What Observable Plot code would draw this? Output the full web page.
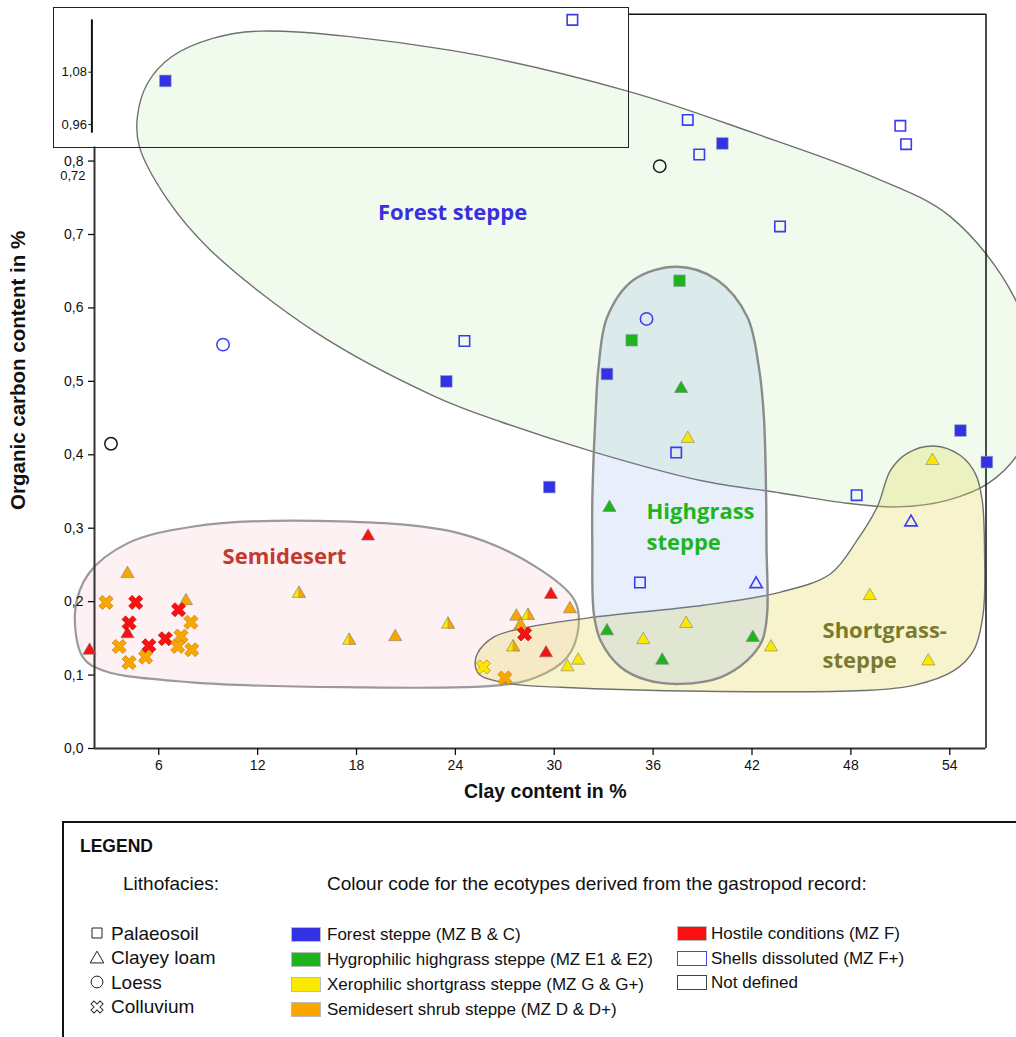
<!DOCTYPE html>
<html><head><meta charset="utf-8">
<script src="https://cdn.jsdelivr.net/npm/d3@7"></script>
<script src="https://cdn.jsdelivr.net/npm/@observablehq/plot@0.6"></script>
<style>
html,body{margin:0;padding:0;background:#fff;overflow:hidden;}
body{width:1016px;height:1037px;position:relative;font-family:"Liberation Sans",Arial,sans-serif;}
#main,#inset{position:absolute;left:0;top:0;}
#insetBox{position:absolute;left:53px;top:7px;width:576px;height:141px;border:1.5px solid #222;box-sizing:border-box;}
#legendBox{position:absolute;left:62px;top:821px;width:1000px;height:260px;border:2px solid #111;box-sizing:border-box;}
.lg{position:absolute;font-size:17px;color:#111;white-space:nowrap;line-height:17px;}
.sw{position:absolute;width:30px;height:15px;box-sizing:border-box;}
.ic{position:absolute;}
</style></head><body>
<div id="main"></div><div id="insetBox"></div><div id="inset"></div><div id="legendBox"></div><div id="legend"></div>
<script>
// ---------------- data ----------------
// lithofacies: P = Palaeosoil, C = Clayey loam, L = Loess, K = Colluvium
// ecotype: forest, highgrass, xero, semi, hostile, shells, undef, mixed (xero + semi)
const clay = [38.1, 40.2, 38.8, 36.4, 51.0, 51.35, 43.7, 9.9, 24.55, 23.45, 33.2, 3.1, 29.7,
  37.6, 35.6, 34.7, 37.7, 38.1, 37.4, 33.35, 35.2, 42.25, 33.2, 35.4, 38.0, 36.55, 42.05, 43.15,
  54.65, 56.25, 52.95, 48.35, 51.65, 49.15, 52.7,
  4.1, 2.8, 4.6, 7.65, 7.2, 4.2, 7.95, 4.1, 6.4, 7.35, 5.4, 3.6, 7.15, 8.0, 1.8, 5.2, 4.2,
  18.7, 14.5, 17.55, 20.35, 23.55, 29.8, 30.95, 27.7, 28.4, 27.95, 28.2, 27.5, 29.5, 30.8, 31.45, 25.7, 27.0];
const carbon = [0.856, 0.824, 0.809, 0.793, 0.848, 0.823, 0.711, 0.550, 0.555, 0.500, 0.510, 0.415, 0.356,
  0.637, 0.585, 0.556, 0.490, 0.422, 0.403, 0.328, 0.226, 0.224, 0.160, 0.148, 0.170, 0.120, 0.151, 0.138,
  0.433, 0.390, 0.392, 0.345, 0.308, 0.208, 0.119,
  0.238, 0.199, 0.199, 0.201, 0.189, 0.171, 0.172, 0.156, 0.1495, 0.153, 0.140, 0.139, 0.139, 0.1345, 0.1335, 0.1245, 0.117,
  0.289, 0.211, 0.147, 0.152, 0.169, 0.2095, 0.190, 0.180, 0.181, 0.168, 0.156, 0.138, 0.130, 0.111, 0.120, 0.111, 0.096];
const facies = ["P","P","P","L","P","P","P","L","P","P","P","L","P",
  "P","L","P","C","C","P","C","P","C","C","C","C","C","C","C",
  "P","P","C","P","C","C","C",
  "C","K","K","C","K","K","K","C","K","K","K","K","K","K","C","K","K",
  "C","C","C","C","C","C","C","C","C","C","K","C","C","C","C","K","K"];
const ecotype = ["shells","forest","shells","undef","shells","shells","shells","shells","shells","forest","forest","undef","forest",
  "highgrass","shells","highgrass","highgrass","xero","shells","highgrass","shells","shells","highgrass","xero","xero","highgrass","highgrass","xero",
  "forest","forest","xero","shells","shells","xero","xero",
  "semi","semi","hostile","semi","hostile","hostile","semi","hostile","hostile","semi","hostile","semi","semi","semi","hostile","semi","semi",
  "hostile","mixed","mixed","semi","mixed","hostile","semi","semi","mixed","semi","hostile","mixed","hostile","xero","xero","xero","semi"];

// values above the axis break, shown in the inset
const insetClay = [6.4, 31.1];
const insetCarbon = [1.06, 1.2];
const insetFacies = ["P", "P"];
const insetEcotype = ["forest", "shells"];

const xTicks = [6, 12, 18, 24, 30, 36, 42, 48, 54];
const yTicks = [0, 0.1, 0.2, 0.3, 0.4, 0.5, 0.6, 0.7, 0.8];
const insetTicks = [0.96, 1.08];
const strayLabel = ["0,72"];  // label printed under "0,8" in the original
const strayLabelCarbon = [0.7805];

// outlines of the ecotype regions (clay %, carbon %)
const forestHull = [[12.18,0.977],[23.65,0.951],[34.5,0.895],[42.13,0.838],[49.28,0.779],[54.05,0.724],[57.9,0.615],
  [59.4,0.50],[58.4,0.411],[56.4,0.362],[53.85,0.338],[50.81,0.329],[47.78,0.334],[43.73,0.348],[38.88,0.365],
  [32.38,0.404],[26.74,0.445],[22.8,0.479],[15.58,0.566],[9.12,0.679],[6.54,0.747],[4.82,0.820],[4.7,0.860],
  [5.32,0.906],[6.78,0.942],[9.27,0.967]];
const highgrassHull = [[37.46,0.656],[39.89,0.638],[41.71,0.588],[42.41,0.520],[42.72,0.452],[42.86,0.338],[42.88,0.274],
  [42.92,0.184],[42.62,0.147],[41.71,0.120],[40.09,0.097],[37.66,0.088],[35.64,0.093],[34.02,0.111],[32.81,0.147],
  [32.4,0.184],[32.31,0.274],[32.31,0.338],[32.5,0.452],[32.69,0.520],[33.22,0.588],[34.81,0.638]];
const semidesertHull = [[15.67,0.310],[24.25,0.293],[28.91,0.247],[31.23,0.202],[31.47,0.165],[30.77,0.124],[28.91,0.097],
  [26.59,0.086],[17.3,0.0835],[8.02,0.090],[2.67,0.106],[1.4,0.124],[0.93,0.188],[1.74,0.238],[4.07,0.279],[8.02,0.302]];
const shortgrassHull = [[25.22,0.111],[25.53,0.0995],[27.35,0.088],[30.38,0.0835],[39.04,0.078],[48.79,0.079],[51.82,0.086],
  [54.25,0.106],[55.46,0.134],[56.03,0.184],[56.11,0.270],[55.97,0.338],[55.56,0.374],[54.65,0.399],[53.03,0.412],
  [51.42,0.402],[50.41,0.379],[49.6,0.329],[48.39,0.284],[46.77,0.238],[43.73,0.213],[39.04,0.195],[32.47,0.179],
  [28.36,0.165],[26.34,0.152],[25.33,0.129]];

const regionText = ["Forest steppe", "Semidesert", "Highgrass\nsteppe", "Shortgrass-\nsteppe"];
const regionClay = [23.83, 13.63, 35.6, 46.28];
const regionCarbon = [0.729, 0.2603, 0.3053, 0.1431];

// ---------------- styles ----------------
const FILL = {forest:"#3232e4", highgrass:"#1eb41e", xero:"#fbe800", semi:"#fba600", hostile:"#fb0f0f", mixed:"#fbe800"};
const LINE = {shells:"#3b3bf0", undef:"#1a1a1a"};
const REGION_COLOR = ["#3a2fe0", "#c33a2c", "#1fb51f", "#7b7a2e"];
const REGION_FONT = "'Open Sans', sans-serif";
const isOpen = e => e === "shells" || e === "undef";
const comma = d => d.toFixed(d >= 0.9 ? 2 : 1).replace(".", ",");

const halfTriangle = {
  draw(context, size) {
    const y = -Math.sqrt(size / (Math.sqrt(3) * 3));
    context.moveTo(0, y * 2);
    context.lineTo(-Math.sqrt(3) * y, -y);
    context.lineTo(0, -y);
    context.closePath();
  }
};

function pointMarks(rows) {
  const sel = (f, pred) => rows.filter(d => d.facies === f && pred(d));
  const xy = {x: "clay", y: "carbon"};
  const filledStroke = "#7d7d7d";
  return [
    Plot.dot(sel("P", d => !isOpen(d.eco)), {...xy, symbol: "square", r: 6.6, fill: d => FILL[d.eco], stroke: "#a0a0c0", strokeWidth: 0.6}),
    Plot.dot(sel("P", d => isOpen(d.eco)), {...xy, symbol: "square", r: 5.9, fill: "none", stroke: d => LINE[d.eco], strokeWidth: 1.6}),
    Plot.dot(sel("C", d => !isOpen(d.eco)), {...xy, symbol: "triangle", r: 4.9, fill: d => FILL[d.eco], stroke: filledStroke, strokeWidth: 0.6}),
    Plot.dot(sel("C", d => d.eco === "mixed"), {...xy, symbol: halfTriangle, r: 4.9, fill: FILL.semi, stroke: filledStroke, strokeWidth: 0.4}),
    Plot.dot(sel("C", d => isOpen(d.eco)), {...xy, symbol: "triangle", r: 4.6, fill: "none", stroke: d => LINE[d.eco], strokeWidth: 1.6}),
    Plot.dot(sel("L", d => true), {...xy, symbol: "circle", r: 6.2, fill: "none", stroke: d => isOpen(d.eco) ? LINE[d.eco] : FILL[d.eco], strokeWidth: 1.5}),
    Plot.dot(sel("K", d => true), {...xy, symbol: "cross", rotate: 45, r: 6.3, fill: d => FILL[d.eco], stroke: d => d.eco === "hostile" ? "#b30000" : "#b87800", strokeWidth: 0.6})
  ];
}

const rowsOf = (cx, cy, fa, ec) => cx.map((c, i) => ({clay: c, carbon: cy[i], facies: fa[i], eco: ec[i]}));
const points = rowsOf(clay, carbon, facies, ecotype);
const insetPoints = rowsOf(insetClay, insetCarbon, insetFacies, insetEcotype);

const X_DOMAIN = [2.1, 56.2];
const W = 1016, H = 815;
const baseStyle = {fontFamily: "'Liberation Sans', Arial, sans-serif", color: "#111", background: "transparent", overflow: "visible"};
const hull = (data, fill, fillOpacity, stroke, strokeWidth) =>
  Plot.line(data, {x: d => d[0], y: d => d[1], curve: "catmull-rom-closed", fill, fillOpacity, stroke, strokeWidth});
const regionLabel = (i, extra) => Plot.text([i], {x: regionClay[i], y: regionCarbon[i], text: () => regionText[i],
  fill: REGION_COLOR[i], fontSize: 22, fontWeight: "bold", fontFamily: REGION_FONT, ...extra});

const main = Plot.plot({
  width: W, height: H,
  marginLeft: 94, marginRight: 30.5, marginTop: 13.7, marginBottom: H - 748,
  x: {domain: X_DOMAIN},
  y: {domain: [0, 1.0]},
  color: {type: "identity"},
  style: {...baseStyle, fontSize: "14px"},
  marks: [
    hull(forestHull, "#b6eba6", 0.2, "#707070", 1.4),
    hull(semidesertHull, "#f08aa8", 0.12, "#9a9a9a", 2.2),
    hull(shortgrassHull, "#e4dc5a", 0.3, "#707070", 1.4),
    hull(highgrassHull, "#7fa8e8", 0.18, "#8c8c8c", 2.4),
    Plot.ruleY([0], {stroke: "#333", strokeWidth: 2}),
    Plot.ruleX([X_DOMAIN[0]], {y1: 0, y2: 0.819, stroke: "#333", strokeWidth: 2}),
    Plot.ruleX([X_DOMAIN[1]], {y1: 0, y2: 1, stroke: "#111", strokeWidth: 1.5}),
    Plot.ruleY([1], {x1: 34.51, x2: X_DOMAIN[1], stroke: "#111", strokeWidth: 1.5}),
    Plot.axisX({ticks: xTicks, tickSize: 7, tickPadding: 5, fontSize: 14, label: null, strokeWidth: 1.3}),
    Plot.axisY({ticks: yTicks, tickSize: 6, tickPadding: 5, fontSize: 14, label: null, tickFormat: comma, strokeWidth: 1.3}),
    Plot.text(strayLabel, {x: X_DOMAIN[0], y: strayLabelCarbon, text: d => d, textAnchor: "end", dx: -9, fontSize: 13}),
    Plot.text(["Clay content in %"], {frameAnchor: "bottom", textAnchor: "middle", dx: 5, dy: 49, fontSize: 19.5, fontWeight: "bold"}),
    Plot.text(["Organic carbon content in %"], {frameAnchor: "left", textAnchor: "middle", dx: -76, dy: -11, rotate: -90, fontSize: 20.5, fontWeight: "bold"}),
    ...pointMarks(points),
    regionLabel(0, {}),
    regionLabel(1, {}),
    regionLabel(2, {textAnchor: "start", lineHeight: 1.45}),
    regionLabel(3, {textAnchor: "start", lineHeight: 1.36})
  ]
});
document.getElementById("main").append(main);

const IH = 150;
const inset = Plot.plot({
  width: W, height: IH,
  marginLeft: 94, marginRight: 30.5, marginTop: 19.4, marginBottom: IH - 132.7,
  x: {domain: X_DOMAIN, axis: null},
  y: {domain: [0.94, 1.2]},
  color: {type: "identity"},
  style: {...baseStyle, fontSize: "13px"},
  marks: [
    Plot.ruleX([X_DOMAIN[0]], {y1: 0.94, y2: 1.2, dx: -2.6, stroke: "#111", strokeWidth: 2}),
    Plot.axisY({ticks: insetTicks, tickSize: 3, tickPadding: 2, dx: -2.6, fontSize: 13, label: null, tickFormat: comma}),
    ...pointMarks(insetPoints)
  ]
});
document.getElementById("inset").append(inset);

// ---------------- legend ----------------
const lithoNames = ["Palaeosoil", "Clayey loam", "Loess", "Colluvium"];
const lithoSymbols = [d3.symbolSquare, d3.symbolTriangle, d3.symbolCircle, d3.symbolCross];
const ecoNames1 = ["Forest steppe (MZ B & C)", "Hygrophilic highgrass steppe (MZ E1 & E2)", "Xerophilic shortgrass steppe (MZ G & G+)", "Semidesert shrub steppe (MZ D & D+)"];
const ecoKeys1 = ["forest", "highgrass", "xero", "semi"];
const ecoNames2 = ["Hostile conditions (MZ F)", "Shells dissoluted (MZ F+)", "Not defined"];
const ecoKeys2 = ["hostile", "shells", "undef"];

const lg = document.getElementById("legend");
function txt(s, x, cy, size, extra) {
  const d = document.createElement("div");
  d.className = "lg"; d.textContent = s;
  d.style.fontSize = size + "px"; d.style.lineHeight = size + "px";
  d.style.left = x + "px"; d.style.top = (cy - size * 0.5) + "px";
  if (extra) Object.assign(d.style, extra);
  lg.append(d);
}
txt("LEGEND", 80, 847, 17.5, {fontWeight: "bold"});
txt("Lithofacies:", 123, 883, 19);
txt("Colour code for the ecotypes derived from the gastropod record:", 327, 883, 19);
const lithoY = [933, 957.5, 982, 1006.5];
lithoNames.forEach((n, i) => {
  txt(n, 111, lithoY[i], 19);
  const svg = d3.create("svg").attr("class", "ic").attr("width", 18).attr("height", 18)
    .style("left", "88px").style("top", (lithoY[i] - 9) + "px");
  const sizes = [100, 80, 110, 90];
  svg.append("path").attr("d", d3.symbol(lithoSymbols[i], sizes[i])())
    .attr("transform", `translate(9,${i === 1 ? 10 : 9}) rotate(${i === 3 ? 45 : 0})`)
    .attr("fill", "none").attr("stroke", "#222").attr("stroke-width", 1);
  lg.append(svg.node());
});
function swatch(x, cy, key) {
  const d = document.createElement("div");
  d.className = "sw";
  d.style.left = x + "px"; d.style.top = (cy - 7.5) + "px";
  if (isOpen(key)) { d.style.background = "#fff"; d.style.border = `1.6px solid ${key === "shells" ? "#4444ee" : "#444"}`; }
  else { d.style.background = FILL[key]; d.style.border = "1px solid #bbb"; }
  lg.append(d);
}
const ecoY1 = [934.5, 959, 984, 1009];
ecoNames1.forEach((n, i) => { swatch(291, ecoY1[i], ecoKeys1[i]); txt(n, 327, ecoY1[i], 17); });
const ecoY2 = [933, 958, 982.5];
ecoNames2.forEach((n, i) => { swatch(677, ecoY2[i], ecoKeys2[i]); txt(n, 711, ecoY2[i], 17); });
</script></body></html>
